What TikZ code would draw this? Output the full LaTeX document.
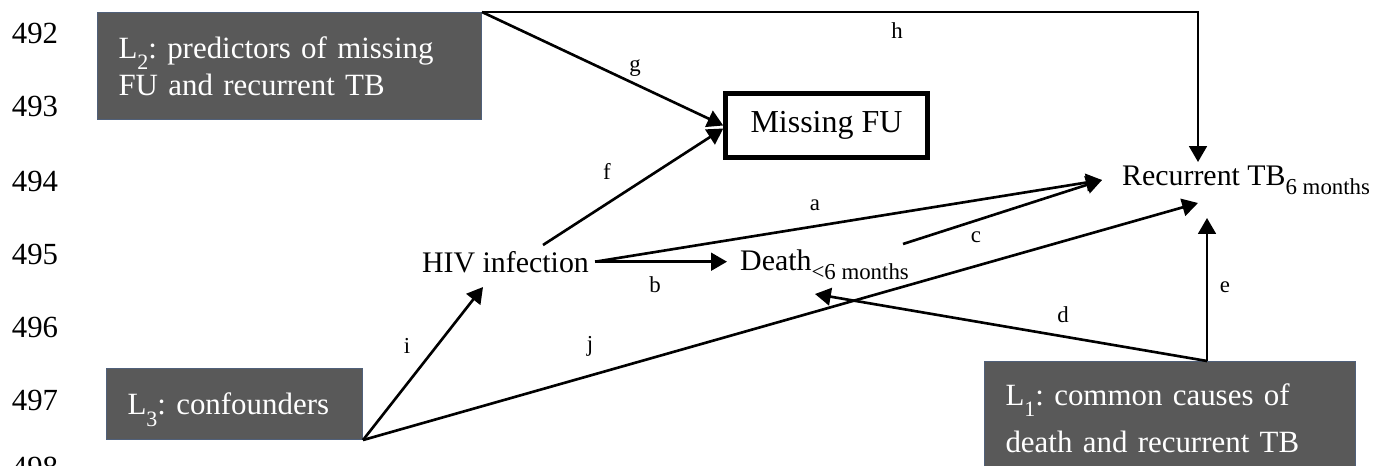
\documentclass[tikz,border=0pt]{standalone}
\usepackage{fontspec}
\setmainfont{Liberation Serif}
\usetikzlibrary{arrows.meta,positioning,calc}
\definecolor{boxfill}{RGB}{89,89,89}
\definecolor{boxedge}{RGB}{80,96,122}
\frenchspacing
\newcommand{\lsub}[1]{\raisebox{-6.5pt}[0pt][0pt]{\fontsize{12.5}{13}\selectfont #1}}
\newcommand{\tsub}[1]{\raisebox{-5.5pt}{\fontsize{13}{15}\selectfont #1}}
\tikzset
{
    latent/.style  = {draw=boxedge, line width=0.6pt, fill=boxfill, text=white, align=left, anchor=north west, inner xsep=0.42cm, font=\fontsize{17.6}{21.2}\selectfont},
    varnode/.style = {font=\fontsize{17}{20}\selectfont},
    missbox/.style = {draw=black, line width=2.6pt, font=\fontsize{18.2}{20}\selectfont},
    causal/.style  = {line width=1.5pt, -{Triangle[length=9pt, width=10pt]}},
    pathlbl/.style = {font=\fontsize{13}{15}\selectfont, inner sep=0pt},
    linenum/.style = {font=\fontsize{17.5}{20}\selectfont}
}

\begin{document}
\begin{tikzpicture}[x=0.02cm, y=-0.02cm]
	\useasboundingbox (0,0) rectangle (1382,466);
	% line numbers
	\foreach \n/\yy in {492/33,493/106,494/181,495/254,496/327,497/400,498/467}
		\node[linenum] (ln\n) at (35,\yy) {\n};
	% groups of covariates
	\node[latent, minimum width=7.68cm, minimum height=2.14cm, text width=6.84cm] (l2) at (97,12)
		{L\lsub{2}: predictors of missing\\FU and recurrent TB};
	\node[latent, minimum width=5.12cm, minimum height=1.42cm, text width=4.28cm] (l3) at (106,368)
		{L\lsub{3}: confounders};
	\node[latent, minimum width=7.42cm, minimum height=2.26cm, text width=6.58cm, font=\fontsize{17.6}{27}\selectfont] (l1) at (984,361)
		{L\lsub{1}: common causes of\\death and recurrent TB};
	% variables
	\node[missbox, minimum width=4.04cm, minimum height=1.28cm] (miss) at (826.5,125.5) {Missing FU};
	\node[varnode, anchor=base] (hiv) at (505.5,272) {HIV infection};
	\node[varnode, anchor=base west] (death) at (734,270) {Death\tsub{<6 months}};
	\node[varnode, anchor=base west] (rtb) at (1116,185) {Recurrent TB\tsub{6 months}};
	% arrow ends
	\coordinate (ftail) at (543,245);
	\coordinate (actip) at (1102,180);
	\coordinate (ctail) at (903,244);
	\coordinate (btip) at (727,266);
	\coordinate (jtip) at (1198,203);
	\coordinate (htip) at (1198,162);
	\coordinate (l1top) at (1207,361);
	\coordinate (etip) at (1207,218);
	\coordinate (dtip) at (815,294);
	\coordinate (itip) at (483,287);
	% paths
	\draw[causal] (hiv.east) -- (actip);
	\draw[causal] (hiv.east) -- (hiv.east -| btip);
	\draw[causal] (ctail) -- (actip);
	\draw[causal] (l1top) -- (dtip);
	\draw[causal] (l1top) -- (etip);
	\draw[causal] (ftail) -- ([yshift=-0.06cm]miss.west);
	\draw[causal] (l2.north east) -- (miss.west);
	\draw[causal] (l2.north east) -| (htip);
	\draw[causal] (l3.south east) -- (itip);
	\draw[causal] (l3.south east) -- (jtip);
	% path labels
	\node[pathlbl] (la) at (815,205) {a};
	\node[pathlbl] (lb) at (655,285) {b};
	\node[pathlbl] (lc) at (976,237) {c};
	\node[pathlbl] (ld) at (1063,315) {d};
	\node[pathlbl] (le) at (1225,287) {e};
	\node[pathlbl] (lf) at (607,171) {f};
	\node[pathlbl] (lg) at (635,68) {g};
	\node[pathlbl] (lh) at (897,31) {h};
	\node[pathlbl] (li) at (407,346) {i};
	\node[pathlbl] (lj) at (590,346) {j};
\end{tikzpicture}
\end{document}
